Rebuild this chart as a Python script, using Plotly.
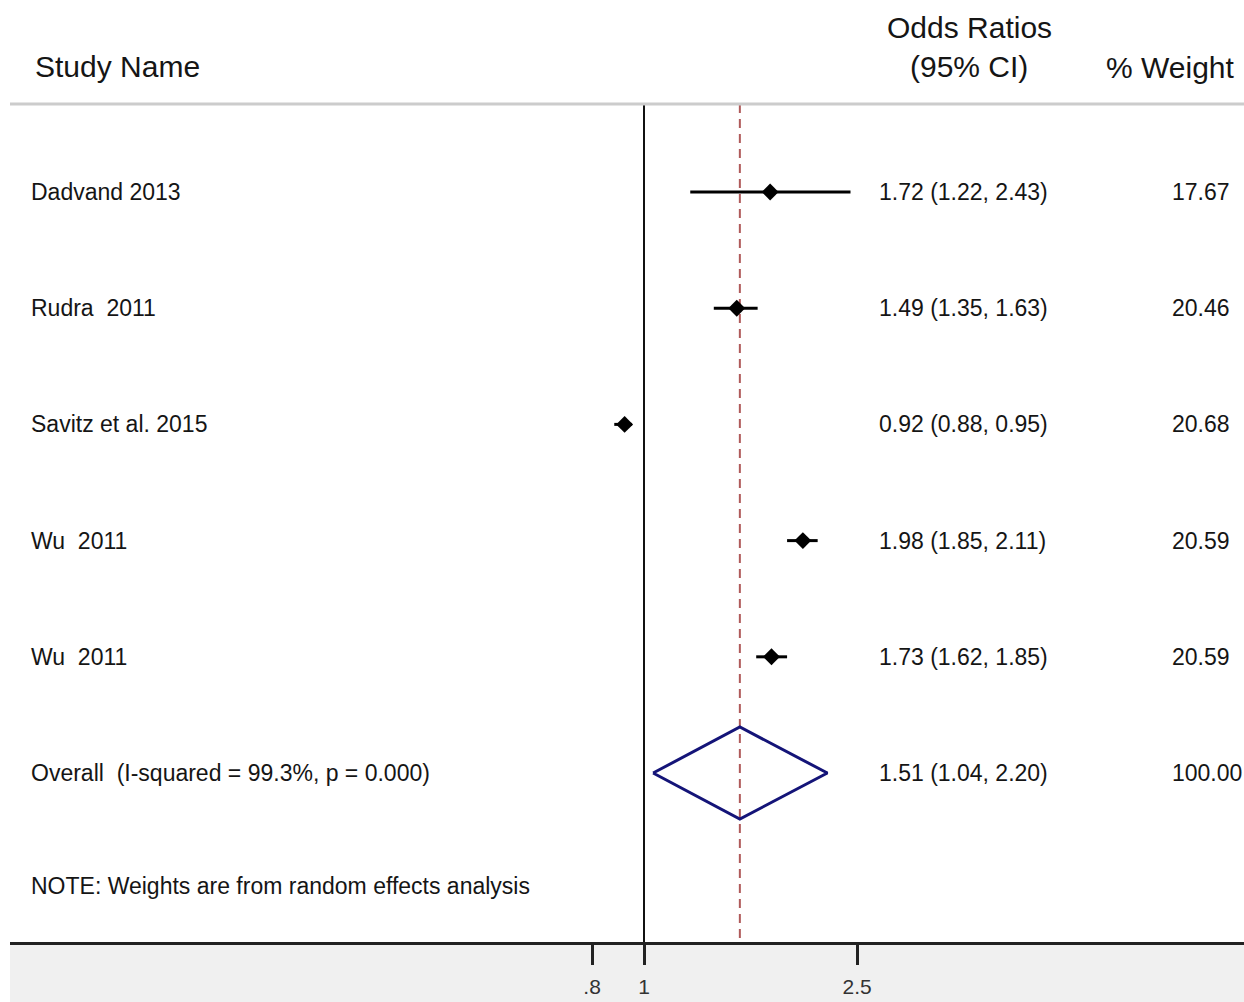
import plotly.graph_objects as go

# ---- data ----
studies = ["Dadvand 2013", "Rudra\u00a0 2011", "Savitz et al. 2015", "Wu\u00a0 2011", "Wu\u00a0 2011"]
odds = [1.72, 1.49, 0.92, 1.98, 1.73]
ci_low = [1.22, 1.35, 0.88, 1.85, 1.62]
ci_high = [2.43, 1.63, 0.95, 2.11, 1.85]
weights = ["17.67", "20.46", "20.68", "20.59", "20.59"]
overall_label = "Overall\u00a0 (I-squared = 99.3%, p = 0.000)"
overall_or = 1.51
overall_low = 1.04
overall_high = 2.20
overall_weight = "100.00"
note_text = "NOTE: Weights are from random effects analysis"
tick_vals = [0.8, 1, 2.5]
tick_text = [".8", "1", "2.5"]

W, H = 1244, 1002
ML, MR, MT, MB = 10, 0, 104, 60
PW, PH = W - ML - MR, H - MT - MB

def px_x(p):
    return (p - ML) / PW

def px_y(p):
    return (H - MB - p) / PH

FONT = "Liberation Sans, Arial, sans-serif"
TXT = "#151515"
ROW_FS = 23
HEAD_FS = 30

Y_TOP, Y_BOT = -0.757, 6.454

fig = go.Figure()

# vertical no-effect line and overall dashed line
fig.add_trace(go.Scatter(x=[1, 1], y=[Y_TOP, Y_BOT], mode="lines",
                         line=dict(color="#111111", width=2), hoverinfo="skip", showlegend=False))
fig.add_trace(go.Scatter(x=[overall_or, overall_or], y=[Y_TOP, Y_BOT], mode="lines",
                         line=dict(color="#b05a5a", width=2, dash="9px,6px"), hoverinfo="skip", showlegend=False))

# CI lines
for i in range(len(studies)):
    fig.add_trace(go.Scatter(x=[ci_low[i], ci_high[i]], y=[i, i], mode="lines",
                             line=dict(color="black", width=3), hoverinfo="skip", showlegend=False))

# point estimates
fig.add_trace(go.Scatter(x=odds, y=list(range(len(studies))), mode="markers",
                         marker=dict(symbol="diamond", size=13, color="black"),
                         showlegend=False))

# overall diamond
yo = len(studies)
hh = 0.396
fig.add_trace(go.Scatter(x=[overall_low, overall_or, overall_high, overall_or, overall_low],
                         y=[yo, yo - hh, yo, yo + hh, yo], mode="lines",
                         line=dict(color="#141478", width=3), showlegend=False))

ann = []
def row_text(x, y, t):
    ann.append(dict(x=x, y=y, xref="paper", yref="y", text=t, showarrow=False,
                    xanchor="left", yanchor="middle", font=dict(size=ROW_FS, color=TXT)))

for i, s in enumerate(studies):
    row_text(px_x(29), i, s)
    row_text(px_x(877), i, f"{odds[i]:.2f} ({ci_low[i]:.2f}, {ci_high[i]:.2f})")
    row_text(px_x(1170), i, weights[i])
row_text(px_x(29), yo, overall_label)
row_text(px_x(877), yo, f"{overall_or:.2f} ({overall_low:.2f}, {overall_high:.2f})")
row_text(px_x(1170), yo, overall_weight)
row_text(px_x(29), yo + 0.97, note_text)

# headers
def head_text(x, y, t, anchor):
    ann.append(dict(x=x, y=y, xref="paper", yref="paper", text=t, showarrow=False,
                    xanchor=anchor, yanchor="middle", font=dict(size=HEAD_FS, color=TXT)))

head_text(px_x(33), px_y(66), "Study Name", "left")
head_text(px_x(969), px_y(28), "Odds Ratios", "center")
head_text(px_x(969), px_y(66), "(95% CI)", "center")
head_text(px_x(1170), px_y(67), "% Weight", "center")

shapes = [
    dict(type="rect", xref="paper", yref="paper", x0=0, x1=1, y0=-MB / PH, y1=0,
         fillcolor="#f0f0f0", line=dict(width=0), layer="below"),
    dict(type="line", xref="paper", yref="paper", x0=0, x1=1, y0=1, y1=1,
         line=dict(color="#cccccc", width=3)),
]

fig.update_layout(
    width=W, height=H,
    margin=dict(l=ML, r=MR, t=MT, b=MB),
    paper_bgcolor="white", plot_bgcolor="white",
    font=dict(family=FONT, color=TXT),
    annotations=ann, shapes=shapes,
    showlegend=False,
    xaxis=dict(type="log", range=[-1.1839, 1.1204], showgrid=False, zeroline=False,
               showline=True, linecolor="#222222", linewidth=3,
               ticks="outside", ticklen=20, tickwidth=2.5, tickcolor="#222222",
               tickvals=tick_vals, ticktext=tick_text, ticklabelstandoff=4,
               tickfont=dict(size=21, color="#333333", family=FONT), fixedrange=True),
    yaxis=dict(range=[Y_BOT, Y_TOP], showgrid=False, zeroline=False, showticklabels=False,
               showline=False, ticks="", fixedrange=True),
)

fig.write_html(
    "out.html",
    config={"displayModeBar": False},
    post_script="document.body.style.margin='0';document.body.style.overflow='hidden';",
)
